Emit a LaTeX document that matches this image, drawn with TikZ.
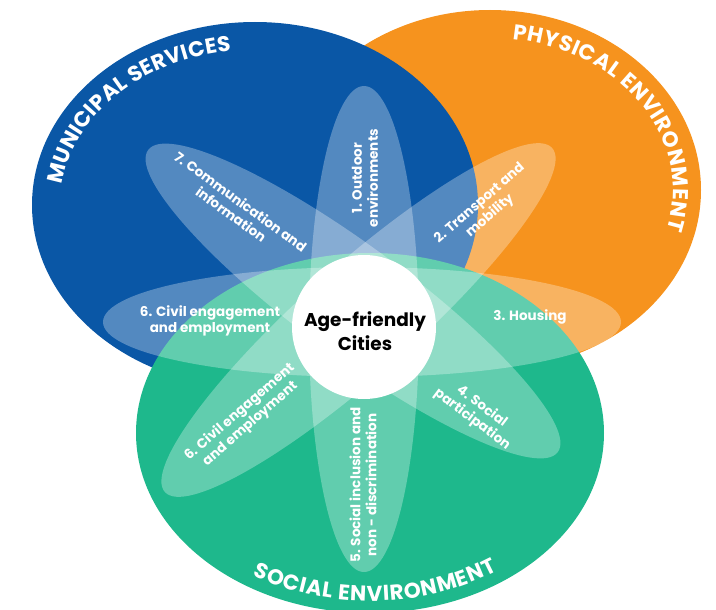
\documentclass[tikz,border=0pt]{standalone}
\usepackage{fontspec}
\setmainfont{Poppins}
\usetikzlibrary{shapes.geometric,decorations.text}
\definecolor{msblue}{RGB}{10,87,166}
\definecolor{peorange}{RGB}{246,147,30}
\definecolor{segreen}{RGB}{30,184,140}
\begin{document}
\begin{tikzpicture}[x=1pt,y=-1pt,
  region/.style={ellipse, inner sep=0pt, outer sep=0pt},
  petal/.style={ellipse, inner sep=0pt, outer sep=0pt, fill=white, fill opacity=0.3, minimum height=110pt},
  lab/.style={text=white, align=center, inner sep=0pt, font=\fontsize{13.5}{16}\selectfont\bfseries},
  titletext/.style={decorate, decoration={text along path, text align=fit to path, text color=white,
     text={|\fontsize{21.5}{22}\selectfont\bfseries|#1}}}
]
\clip (0,0) rectangle (716,610);
% regions
\node[region, fill=peorange, minimum width=422pt, minimum height=360pt] (orange) at (490,190) {};
\node[region, fill=msblue, minimum width=446pt, minimum height=366pt] (blue) at (255,205) {};
\node[region, fill=segreen, minimum width=468pt, minimum height=360pt] (green) at (370,433) {};
% petals
\node[petal, minimum width=518pt] (ph) at (362,322) {};
\node[petal, minimum width=486pt, rotate=90] (pv) at (364,329) {};
\node[petal, minimum width=518pt, rotate=41.6] (pd1) at (358.5,320) {};
\node[petal, minimum width=509pt, rotate=-36.4] (pd2) at (353,301) {};
% hub
\node[circle, fill=white, minimum size=144pt, inner sep=0pt] (hub) at (364,327) {};
\node[font=\fontsize{18.5}{24}\selectfont\bfseries, align=center, inner sep=0pt] (hubtext) at (365,331) {Age-friendly\\Cities};
% labels
\node[lab, rotate=90] (l1) at (365,178) {1. Outdoor\\environments};
\node[lab, rotate=41] (l2) at (485,210) {2. Transport and\\mobility};
\node[lab] (l3) at (530,317) {3. Housing};
\node[lab, rotate=-37] (l4) at (477,413) {4. Social\\participation};
\node[lab, rotate=90] (l5) at (363,485) {5. Social inclusion and\\non - discrimination};
\node[lab, rotate=41] (l6a) at (245,418) {6. Civil engagement\\and employment};
\node[lab] (l6b) at (210,321) {6. Civil engagement\\and employment};
\node[lab, rotate=-36] (l7) at (236,208) {7. Communication and\\information};
% titles
\path[titletext={MUNICIPAL SERVICES}] (blue.center) ++(172.5:195pt and 155pt)
  arc[start angle=172.5, end angle=97, x radius=195pt, y radius=155pt];
\path[titletext={PHYSICAL ENVIRONMENT}] (orange.center) ++(83:183pt and 152pt)
  arc[start angle=83, end angle=-15, x radius=183pt, y radius=152pt];
\path[titletext={SOCIAL ENVIRONMENT}] (green.center) ++(238:222pt and 168pt)
  arc[start angle=238, end angle=305, x radius=222pt, y radius=168pt];
\end{tikzpicture}
\end{document}
